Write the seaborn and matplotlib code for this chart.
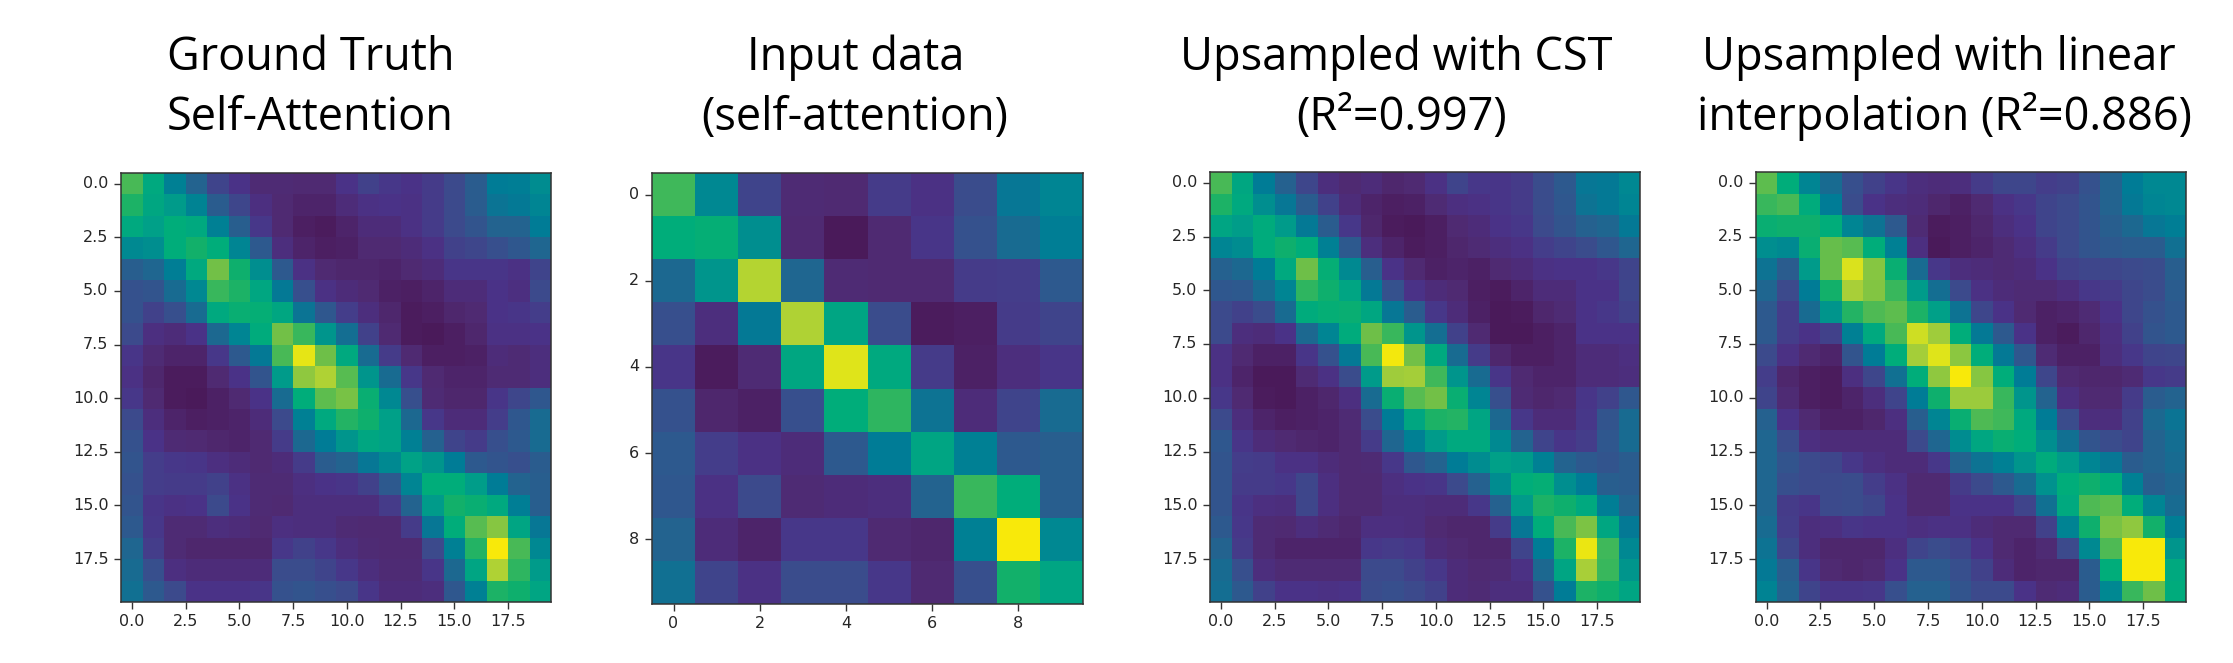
import numpy as np
import matplotlib
matplotlib.use('Agg')
import matplotlib.pyplot as plt
from matplotlib.colors import LinearSegmentedColormap
import seaborn as sns

W, H = 2233, 663

ground_truth = [
    [70, 58, 42, 30, 18, 12, 7, 7, 6, 6, 12, 17, 14, 12, 15, 20, 27, 40, 41, 47],
    [65, 57, 52, 43, 27, 19, 10, 6, 4, 4, 8, 11, 12, 11, 15, 20, 27, 37, 39, 44],
    [58, 54, 60, 58, 42, 28, 14, 6, 2, 1, 4, 8, 8, 11, 15, 20, 24, 30, 30, 40],
    [46, 48, 60, 64, 60, 44, 26, 9, 4, 2, 3, 6, 6, 8, 11, 17, 19, 22, 25, 31],
    [28, 31, 41, 58, 76, 63, 48, 26, 11, 6, 5, 5, 4, 6, 8, 13, 13, 13, 11, 18],
    [23, 24, 33, 45, 68, 65, 57, 39, 22, 11, 8, 6, 3, 2, 4, 8, 8, 12, 10, 20],
    [23, 17, 22, 33, 58, 62, 61, 57, 37, 25, 16, 9, 5, 1, 2, 5, 6, 12, 13, 16],
    [20, 10, 8, 12, 32, 44, 59, 76, 68, 50, 34, 17, 6, 1, 0, 2, 5, 11, 11, 12],
    [13, 7, 4, 4, 14, 26, 39, 70, 97, 75, 58, 33, 15, 6, 2, 2, 3, 8, 7, 9],
    [11, 5, 1, 1, 6, 12, 24, 52, 82, 88, 72, 50, 33, 14, 6, 4, 4, 7, 7, 9],
    [14, 6, 1, 0, 3, 6, 12, 33, 60, 73, 77, 62, 45, 22, 7, 5, 5, 13, 19, 25],
    [20, 9, 4, 2, 3, 4, 8, 20, 42, 58, 66, 63, 54, 32, 14, 8, 8, 16, 25, 33],
    [23, 12, 7, 6, 5, 4, 6, 15, 32, 40, 50, 57, 55, 42, 29, 18, 15, 22, 26, 33],
    [24, 16, 14, 13, 10, 8, 6, 8, 15, 27, 30, 38, 46, 55, 50, 40, 26, 24, 22, 27],
    [23, 16, 15, 15, 17, 11, 7, 7, 10, 12, 13, 17, 26, 44, 60, 60, 53, 40, 30, 28],
    [24, 13, 11, 12, 20, 12, 7, 6, 9, 9, 9, 9, 15, 30, 52, 64, 62, 58, 41, 28],
    [26, 14, 7, 7, 9, 8, 6, 10, 9, 9, 7, 6, 6, 15, 38, 60, 72, 80, 56, 38],
    [31, 16, 7, 5, 5, 5, 5, 14, 17, 14, 9, 7, 6, 6, 20, 42, 66, 100, 70, 45],
    [33, 22, 10, 8, 8, 8, 8, 21, 21, 18, 14, 9, 7, 7, 13, 32, 56, 88, 67, 52],
    [35, 26, 20, 12, 12, 12, 13, 23, 24, 22, 20, 13, 8, 8, 9, 25, 42, 65, 63, 56],
]

input_data = [
    [69, 45, 18, 7, 6, 15, 11, 21, 38, 44],
    [60, 61, 48, 6, 0, 6, 13, 23, 33, 41],
    [32, 50, 89, 31, 7, 6, 6, 15, 16, 26],
    [22, 9, 39, 88, 56, 21, 1, 2, 15, 18],
    [13, 1, 7, 57, 96, 58, 15, 3, 9, 13],
    [23, 5, 3, 22, 60, 67, 36, 8, 18, 33],
    [26, 16, 11, 8, 26, 40, 56, 42, 26, 28],
    [25, 11, 20, 7, 8, 9, 30, 68, 60, 28],
    [30, 8, 4, 14, 14, 6, 5, 42, 100, 45],
    [35, 18, 11, 21, 21, 14, 6, 22, 64, 56],
]

upsampled_cst = [
    [70, 57, 40, 29, 19, 9, 6, 8, 5, 6, 11, 18, 14, 13, 15, 21, 26, 38, 39, 45],
    [65, 58, 48, 38, 27, 17, 8, 4, 2, 3, 7, 10, 11, 13, 15, 21, 25, 36, 39, 44],
    [56, 53, 59, 52, 39, 27, 14, 5, 1, 0, 2, 6, 8, 12, 14, 20, 24, 29, 31, 39],
    [44, 47, 59, 63, 60, 42, 26, 9, 4, 1, 2, 5, 7, 9, 11, 16, 18, 21, 25, 31],
    [29, 32, 40, 58, 75, 61, 46, 28, 12, 6, 3, 4, 3, 6, 8, 11, 12, 12, 14, 18],
    [25, 26, 33, 44, 67, 63, 56, 39, 23, 12, 8, 6, 2, 1, 4, 8, 8, 12, 12, 19],
    [20, 17, 21, 33, 59, 61, 62, 57, 38, 27, 14, 8, 3, 0, 1, 5, 7, 12, 14, 17],
    [20, 9, 8, 12, 32, 44, 59, 75, 68, 50, 34, 17, 6, 0, 0, 2, 4, 12, 12, 12],
    [11, 6, 3, 3, 13, 23, 39, 70, 99, 76, 58, 33, 15, 5, 2, 2, 4, 8, 8, 10],
    [11, 4, 0, 0, 7, 11, 21, 52, 85, 86, 69, 50, 33, 13, 6, 4, 4, 8, 8, 9],
    [14, 6, 1, 0, 3, 5, 10, 33, 62, 72, 76, 62, 44, 22, 7, 5, 6, 13, 17, 25],
    [20, 9, 4, 2, 3, 4, 7, 21, 40, 57, 65, 66, 56, 32, 14, 8, 8, 14, 24, 33],
    [25, 13, 8, 6, 5, 4, 6, 15, 31, 42, 52, 58, 58, 46, 30, 18, 13, 16, 25, 33],
    [24, 16, 15, 11, 11, 8, 6, 7, 14, 25, 30, 40, 47, 54, 52, 42, 30, 26, 24, 27],
    [24, 15, 15, 14, 19, 10, 6, 6, 10, 12, 13, 20, 29, 47, 60, 61, 48, 40, 28, 27],
    [24, 13, 10, 9, 19, 10, 6, 6, 9, 9, 8, 8, 14, 29, 52, 65, 63, 58, 41, 30],
    [26, 14, 7, 6, 9, 7, 5, 10, 10, 9, 6, 5, 5, 15, 38, 60, 70, 78, 57, 39],
    [30, 15, 7, 4, 4, 4, 4, 14, 15, 14, 8, 6, 5, 5, 18, 40, 65, 98, 69, 45],
    [33, 22, 9, 7, 7, 7, 7, 20, 20, 17, 14, 8, 6, 7, 11, 32, 56, 87, 68, 50],
    [34, 26, 17, 12, 12, 11, 12, 21, 22, 20, 17, 8, 7, 9, 9, 23, 40, 65, 63, 56],
]

upsampled_linear = [
    [73, 60, 44, 33, 22, 17, 13, 9, 8, 9, 15, 19, 19, 16, 17, 23, 30, 40, 45, 45],
    [68, 70, 59, 40, 21, 12, 9, 8, 5, 3, 6, 11, 14, 18, 20, 24, 30, 39, 44, 45],
    [62, 63, 63, 60, 44, 36, 26, 7, 1, 2, 5, 9, 12, 18, 20, 24, 28, 32, 38, 41],
    [48, 46, 62, 74, 72, 60, 42, 10, 0, 2, 4, 7, 10, 15, 20, 24, 26, 27, 27, 35],
    [36, 27, 52, 74, 95, 80, 62, 33, 14, 9, 8, 7, 8, 12, 17, 19, 19, 20, 21, 28],
    [31, 20, 40, 64, 87, 79, 68, 52, 34, 20, 11, 8, 7, 7, 9, 14, 15, 19, 21, 27],
    [26, 16, 33, 50, 66, 71, 73, 65, 54, 36, 19, 12, 6, 3, 4, 7, 12, 19, 23, 26],
    [26, 16, 12, 17, 42, 58, 70, 93, 85, 60, 39, 26, 12, 3, 1, 5, 10, 17, 24, 26],
    [20, 11, 6, 4, 24, 40, 60, 86, 96, 81, 60, 39, 25, 7, 3, 3, 9, 14, 18, 19],
    [16, 5, 2, 1, 10, 19, 35, 60, 82, 100, 80, 60, 40, 19, 6, 5, 5, 7, 14, 15],
    [18, 7, 2, 1, 4, 9, 18, 40, 63, 84, 84, 68, 50, 30, 10, 6, 6, 15, 27, 30],
    [29, 12, 6, 3, 3, 5, 10, 28, 44, 62, 71, 69, 58, 40, 21, 9, 9, 17, 32, 37],
    [31, 21, 10, 8, 8, 8, 8, 20, 31, 47, 57, 62, 60, 48, 35, 24, 21, 18, 30, 34],
    [31, 24, 20, 19, 14, 10, 8, 8, 14, 30, 36, 42, 50, 59, 52, 44, 38, 27, 30, 33],
    [31, 22, 20, 20, 21, 16, 11, 6, 6, 15, 20, 26, 33, 49, 60, 63, 60, 42, 28, 31],
    [31, 15, 13, 20, 21, 19, 12, 6, 6, 12, 12, 12, 18, 35, 58, 71, 73, 60, 44, 33],
    [33, 16, 9, 10, 13, 12, 12, 10, 11, 11, 8, 6, 6, 17, 43, 63, 77, 82, 64, 41],
    [36, 19, 9, 5, 5, 5, 10, 18, 21, 18, 12, 6, 4, 7, 20, 46, 71, 100, 100, 50],
    [39, 28, 13, 6, 5, 6, 12, 26, 26, 22, 17, 8, 4, 5, 5, 27, 60, 100, 100, 58],
    [43, 30, 18, 13, 13, 14, 22, 29, 29, 24, 20, 20, 12, 7, 8, 27, 45, 68, 75, 59],
]

ticks_20 = [0, 2.5, 5, 7.5, 10, 12.5, 15, 17.5]
ticks_10 = [0, 2, 4, 6, 8]

# colours (a bit more saturated than plain viridis)
cmap_colors = [
    (0.00, '#4a1a5a'), (0.06, '#4f2a72'), (0.12, '#4a3288'), (0.20, '#3c4a8c'),
    (0.30, '#22648f'), (0.40, '#007c96'), (0.47, '#008c90'), (0.54, '#00a088'),
    (0.60, '#00ad7a'), (0.64, '#12b06a'), (0.69, '#3fb85a'), (0.75, '#6dbf48'),
    (0.87, '#a8cf38'), (0.95, '#d8e21e'), (1.00, '#f8e90a'),
]
cmap = LinearSegmentedColormap.from_list('ref_viridis', cmap_colors)

sns.set_theme(style='white')
plt.rcParams['font.family'] = ['DejaVu Sans']

fig = plt.figure(figsize=(W / 100, H / 100), dpi=100, facecolor='white')


def draw_panel(data, ticks, x0, x1, y0, y1, fmt):
    ax = fig.add_axes([x0 / W, 1 - y1 / H, (x1 - x0) / W, (y1 - y0) / H])
    values = np.array(data) / 100
    sns.heatmap(values, cmap=cmap, vmin=0, vmax=1, cbar=False, ax=ax)
    pos = [t + 0.5 for t in ticks]
    ax.set_xticks(pos)
    ax.set_yticks(pos)
    ax.set_xticklabels([fmt.format(t) for t in ticks], rotation=0, fontsize=11.5, color='#262626')
    ax.set_yticklabels([fmt.format(t) for t in ticks], rotation=0, fontsize=11.5, color='#262626')
    ax.tick_params(left=True, bottom=True, length=5, width=1, color='#333333', pad=4)
    for s in ax.spines.values():
        s.set_visible(True)
        s.set_color('#333333')
        s.set_linewidth(1.1)
    return ax


draw_panel(ground_truth, ticks_20, 121, 551, 173, 602, '{:.1f}')
draw_panel(input_data, ticks_10, 652, 1083, 173, 604, '{:d}')
draw_panel(upsampled_cst, ticks_20, 1210, 1640, 172, 602, '{:.1f}')
draw_panel(upsampled_linear, ticks_20, 1756, 2186, 172, 602, '{:.1f}')

title_font = ['Open Sans', 'DejaVu Sans']
title_size = 32.5
titles = [
    ('Ground Truth', 167, 70, 'left'),
    ('Self-Attention', 167, 130, 'left'),
    ('Input data', 856, 70, 'center'),
    ('(self-attention)', 855, 130, 'center'),
    ('Upsampled with CST', 1396, 70, 'center'),
    ('(R²=0.997)', 1402, 130, 'center'),
    ('Upsampled with linear', 1939, 70, 'center'),
    ('interpolation (R²=0.886)', 1944, 130, 'center'),
]
for text, x, y, ha in titles:
    fig.text(x / W, 1 - y / H, text, ha=ha, va='baseline', fontsize=title_size,
             family=title_font, color='black')

fig.savefig('out.png', dpi=100)
plt.close(fig)
